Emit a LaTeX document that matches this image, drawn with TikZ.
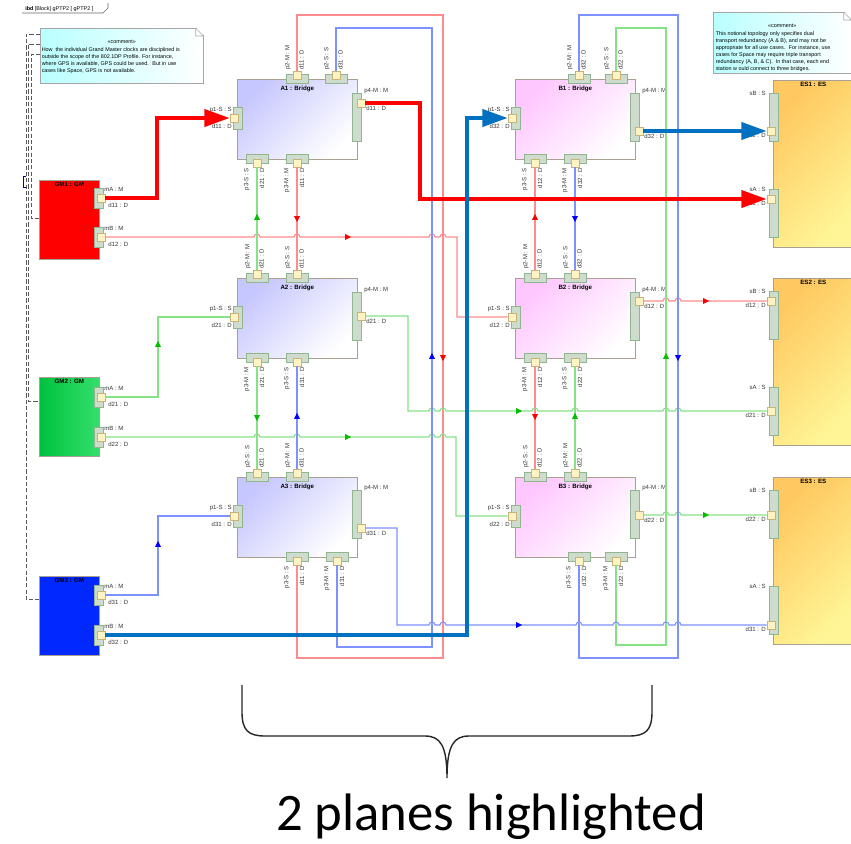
\documentclass[tikz,border=0pt]{standalone}
\usepackage{fontspec}
\setmainfont{Liberation Sans}
\newfontfamily\captfont{Carlito}
\usepackage{tikz}
\usetikzlibrary{arrows.meta,positioning,calc,shapes.geometric,shadows}

\definecolor{wirered}{RGB}{255,140,140}
\definecolor{wiregreen}{RGB}{135,225,135}
\definecolor{wireblue}{RGB}{125,145,255}
\definecolor{tipgreen}{RGB}{0,190,0}
\definecolor{planeblue}{RGB}{0,112,192}
\definecolor{boxedge}{RGB}{170,160,145}
\definecolor{stripfill}{RGB}{205,220,205}
\definecolor{stripedge}{RGB}{145,180,145}
\definecolor{sqfill}{RGB}{255,243,196}
\definecolor{sqedge}{RGB}{200,180,120}
\definecolor{lblgray}{RGB}{55,55,55}
\definecolor{esorange}{RGB}{255,200,96}
\definecolor{esyellow}{RGB}{255,245,150}
\definecolor{cmtcyan}{RGB}{185,255,255}
\definecolor{gmgreen}{RGB}{0,215,70}
\definecolor{gmblue}{RGB}{0,40,255}

\newcommand\plfont{\fontsize{4.3}{5}\selectfont}
\newcommand\ttlfont{\fontsize{4.4}{5}\selectfont\bfseries}
\newcommand\cmtfont{\fontsize{3.85}{4.96}\selectfont}

\tikzset{
  pstrip/.style={draw=stripedge, fill=stripfill, inner sep=0pt, line width=0.4pt},
  psq/.style={draw=sqedge, fill=sqfill, inner sep=0pt, minimum size=0.2cm, line width=0.4pt},
  plbl/.style={font=\plfont, text=lblgray, inner sep=0pt},
  boxshadow/.style={drop shadow={shadow xshift=0.7pt, shadow yshift=-0.7pt, opacity=0.3}},
  gmbox/.style={draw=boxedge, inner sep=0pt, minimum width=1.5cm, minimum height=1.975cm,
                anchor=north west, boxshadow},
  bridgeA/.style={draw=boxedge, left color=blue!22, right color=white, shading angle=45,
                  inner sep=0pt, minimum width=3cm, minimum height=2cm, anchor=north west, boxshadow},
  bridgeB/.style={draw=boxedge, left color=magenta!22, right color=white, shading angle=45,
                  inner sep=0pt, minimum width=3cm, minimum height=2cm, anchor=north west, boxshadow},
  esbox/.style={draw=boxedge, left color=esorange, right color=esyellow, shading angle=45,
                inner sep=0pt, minimum width=2cm, minimum height=4.175cm, anchor=north west, boxshadow},
  bttl/.style={font=\ttlfont, inner sep=0pt},
  cmtbox/.style={draw=gray!70, left color=cmtcyan, right color=white, inner sep=0pt,
                 anchor=north west, boxshadow},
  cmtedge/.style={draw=gray!70, fill=white},
  cmtttl/.style={font=\cmtfont, inner sep=0pt},
  cmttxt/.style={font=\cmtfont, align=left, inner sep=0pt},
  hdr/.style={font=\cmtfont, inner sep=0pt},
  tabline/.style={draw=gray!80!black, line width=0.4pt},
  cmtlink/.style={draw=gray!70!black, dash pattern=on 3pt off 1.5pt, line width=0.5pt},
  wr/.style={draw=wirered, line width=0.75pt},
  wg/.style={draw=wiregreen, line width=0.75pt},
  wb/.style={draw=wireblue, line width=0.75pt},
  redplane/.style={draw=red, line width=3pt},
  blueplane/.style={draw=planeblue, line width=3pt},
  bigtip/.style={-{Triangle[length=18pt,width=12pt]}},
  midtip/.style={isosceles triangle, isosceles triangle stretches, minimum width=4.2pt,
                 minimum height=4.2pt, inner sep=0pt, fill=#1, draw=none},
  bracel/.style={draw=black!85, line width=1pt},
  capt/.style={font=\captfont\fontsize{37.5}{40}\selectfont, inner sep=0pt}
}

% line jump over a crossing wire
\newcommand\hop[2]{-- ({#1-3},#2) .. controls ({#1-3},{#2-4}) and ({#1+3},{#2-4}) .. ({#1+3},#2)}

% ports: name, x, edge y, two labels
\newcommand\topport[5]{%
  \node[pstrip, minimum width=0.55cm, minimum height=0.225cm] (#1-s) at (#2,#3) {};
  \node[psq] (#1) at (#2,{#3-4}) {};
  \node[plbl, rotate=90, anchor=west] (#1-a) at ({#2-9},{#3-9}) {#4};
  \node[plbl, rotate=90, anchor=west] (#1-b) at ({#2+4.5},{#3-9}) {#5};}
\newcommand\botport[5]{%
  \node[pstrip, minimum width=0.55cm, minimum height=0.225cm] (#1-s) at (#2,#3) {};
  \node[psq] (#1) at (#2,{#3+4}) {};
  \node[plbl, rotate=90, anchor=east] (#1-a) at ({#2-10},{#3+9}) {#4};
  \node[plbl, rotate=90, anchor=east] (#1-b) at ({#2+5},{#3+9}) {#5};}
% name, edge x, y, two labels
\newcommand\leftport[5]{%
  \node[pstrip, minimum width=0.225cm, minimum height=0.55cm] (#1-s) at ({#2+1},#3) {};
  \node[psq] (#1) at ({#2-3},#3) {};
  \node[plbl, anchor=east] (#1-a) at ({#2-5},{#3-8}) {#4};
  \node[plbl, anchor=east] (#1-b) at ({#2-5},{#3+8}) {#5};}
% name, edge x, strip top, square y, two labels
\newcommand\rightport[6]{%
  \node[pstrip, minimum width=0.225cm, minimum height=1.2cm] (#1-s) at (#2,{#3+24}) {};
  \node[psq] (#1) at ({#2+4},#4) {};
  \node[plbl, anchor=west] (#1-a) at ({#2+7},{#3-2}) {#5};
  \node[plbl, anchor=west] (#1-b) at ({#2+9},{#4+5}) {#6};}
% name, y, two labels
\newcommand\gmport[4]{%
  \node[pstrip, minimum width=0.225cm, minimum height=0.5cm] (#1-s) at (98.5,#2) {};
  \node[psq] (#1) at (101,#2) {};
  \node[plbl, anchor=west] (#1-a) at (104,{#2-9}) {#3};
  \node[plbl, anchor=west] (#1-b) at (108,{#2+7}) {#4};}
% name, strip top, square y, two labels
\newcommand\esport[5]{%
  \node[pstrip, minimum width=0.225cm, minimum height=1.2cm] (#1-s) at (773.5,{#2+24}) {};
  \node[psq] (#1) at (771,#3) {};
  \node[plbl, anchor=east] (#1-a) at (766,#2) {#4};
  \node[plbl, anchor=east] (#1-b) at (766,{#3+4}) {#5};}

\begin{document}
\begin{tikzpicture}[x=0.025cm, y=-0.025cm]
  \fill[white] (0,0) rectangle (851,844);
  \useasboundingbox (0,0) rectangle (851,844);

  % frame header
  \node[hdr, anchor=west] (hdr) at (25,9) {\textbf{ibd} [Block] gPTP2 [ gPTP2 ]};
  \draw[tabline] (22,13) -- (103,13) -- (108,8) -- (108,3);

  % comments
  \node[cmtbox, minimum width=4.075cm, minimum height=1.375cm] (cmtGM) at (40,28) {};
  \fill[white] ($(cmtGM.north east)+(-8,-1)$) -- ++(9,0) -- ++(0,9) -- cycle;
  \draw[cmtedge] ($(cmtGM.north east)+(-8,0)$) -- ++(0,8) -- ++(8,0) -- cycle;
  \node[cmtttl] (cmtGM-t) at ($(cmtGM.north)+(0,14)$) {«comment»};
  \node[cmttxt, anchor=north west] (cmtGM-b) at ($(cmtGM.north west)+(1.5,19.5)$)
    {How~ the individual Grand Master clocks are disciplined is\\
     outside the scope of the 802.1DP Profile. For instance,\\
     where GPS is available, GPS could be used.~ But in use\\
     cases like Space, GPS is not available.};

  \node[cmtbox, minimum width=3.45cm, minimum height=1.525cm] (cmtES) at (713,12) {};
  \fill[white] ($(cmtES.north east)+(-8,-1)$) -- ++(9,0) -- ++(0,9) -- cycle;
  \draw[cmtedge] ($(cmtES.north east)+(-8,0)$) -- ++(0,8) -- ++(8,0) -- cycle;
  \node[cmtttl] (cmtES-t) at ($(cmtES.north)+(0,14)$) {«comment»};
  \node[cmttxt, anchor=north west] (cmtES-b) at ($(cmtES.north west)+(2.5,19.5)$)
    {This notional topology only specifies dual\\
     transport redundancy (A \& B), and may not be\\
     appropriate for all use cases.~ For instance, use\\
     cases for Space may require triple transport\\
     redundancy (A, B, \& C).~ In that case, each end\\
     station w ould connect to three bridges.};

  % grand masters
  \node[gmbox, fill=red] (GM1) at (39,180) {};
  \node[bttl, below=1.3pt of GM1.north] (GM1-t) {GM1 : GM};
  \node[gmbox, left color=gmgreen!90!black, right color=gmgreen!80!white] (GM2) at (39,377) {};
  \node[bttl, below=1.3pt of GM2.north] (GM2-t) {GM2 : GM};
  \node[gmbox, fill=gmblue] (GM3) at (39,576) {};
  \node[bttl, below=1.3pt of GM3.north] (GM3-t) {GM3 : GM};

  \draw[cmtlink] ($(cmtGM.north west)+(0,6)$) -| (26,599) -- ($(GM3.north west)+(0,23)$);
  \draw[cmtlink] ($(cmtGM.north west)+(0,16)$) -| (28.5,401) -- ($(GM2.north west)+(0,24)$);
  \draw[cmtlink] ($(cmtGM.north west)+(0,26)$) -| (31,218) -- ($(GM1.north west)+(0,38)$);
  \draw[draw=blue!70!black, line width=0.6pt] (26,176) -- (23,176) -- (23,187) -- (26,187);

  % bridges
  \node[bridgeA] (A1) at (237,79) {};
  \node[bttl, below=5pt of A1.north] (A1-t) {A1 : Bridge};
  \node[bridgeA] (A2) at (237,278) {};
  \node[bttl, below=5pt of A2.north] (A2-t) {A2 : Bridge};
  \node[bridgeA] (A3) at (237,477) {};
  \node[bttl, below=5pt of A3.north] (A3-t) {A3 : Bridge};
  \node[bridgeB] (B1) at (515,79) {};
  \node[bttl, below=5pt of B1.north] (B1-t) {B1 : Bridge};
  \node[bridgeB] (B2) at (515,278) {};
  \node[bttl, below=5pt of B2.north] (B2-t) {B2 : Bridge};
  \node[bridgeB] (B3) at (515,477) {};
  \node[bttl, below=5pt of B3.north] (B3-t) {B3 : Bridge};

  % end stations
  \node[esbox] (ES1) at (773,80) {};
  \node[bttl, below=1.3pt of ES1.north] (ES1-t) {ES1 : ES};
  \node[esbox] (ES2) at (773,278) {};
  \node[bttl, below=1.3pt of ES2.north] (ES2-t) {ES2 : ES};
  \node[esbox] (ES3) at (773,477) {};
  \node[bttl, below=1.3pt of ES3.north] (ES3-t) {ES3 : ES};

  % ports
  \gmport{GM1-mA}{198}{mA : M}{d11 : D}
  \gmport{GM1-mB}{237}{mB : M}{d12 : D}
  \gmport{GM2-mA}{397}{mA : M}{d21 : D}
  \gmport{GM2-mB}{437}{mB : M}{d22 : D}
  \gmport{GM3-mA}{595}{mA : M}{d31 : D}
  \gmport{GM3-mB}{635}{mB : M}{d32 : D}

  \topport{A1-p2M}{297}{79}{p2-M : M}{d11 : D}
  \topport{A1-p2S}{336}{79}{p2-S : S}{d31 : D}
  \leftport{A1-p1}{237}{118}{p1-S : S}{d11 : D}
  \rightport{A1-p4}{357}{93}{103}{p4-M : M}{d11 : D}
  \botport{A1-p3S}{257}{159}{p3-S : S}{d21 : D}
  \botport{A1-p3M}{297}{159}{p3-M : M}{d11 : D}

  \topport{A2-p2M}{257}{278}{p2-M : M}{d21 : D}
  \topport{A2-p2S}{297}{278}{p2-S : S}{d11 : D}
  \leftport{A2-p1}{237}{317}{p1-S : S}{d21 : D}
  \rightport{A2-p4}{357}{292}{316}{p4-M : M}{d21 : D}
  \botport{A2-p3M}{257}{358}{p3-M : M}{d21 : D}
  \botport{A2-p3S}{297}{358}{p3-S : S}{d31 : D}

  \topport{A3-p2S}{257}{477}{p2-S : S}{d21 : D}
  \topport{A3-p2M}{297}{477}{p2-M : M}{d31 : D}
  \leftport{A3-p1}{237}{516}{p1-S : S}{d31 : D}
  \rightport{A3-p4}{357}{490}{528}{p4-M : M}{d31 : D}
  \botport{A3-p3S}{297}{557}{p3-S : S}{d11 : D}
  \botport{A3-p3M}{337}{557}{p3-M : M}{d31 : D}

  \topport{B1-p2M}{579}{79}{p2-M : M}{d32 : D}
  \topport{B1-p2S}{616}{79}{p2-S : S}{d22 : D}
  \leftport{B1-p1}{515}{118}{p1-S : S}{d32 : D}
  \rightport{B1-p4}{635}{93}{131}{p4-M : M}{d32 : D}
  \botport{B1-p3S}{535}{159}{p3-S : S}{d12 : D}
  \botport{B1-p3M}{575}{159}{p3-M : M}{d32 : D}

  \topport{B2-p2M}{535}{278}{p2-M : M}{d12 : D}
  \topport{B2-p2S}{575}{278}{p2-S : S}{d32 : D}
  \leftport{B2-p1}{515}{317}{p1-S : S}{d12 : D}
  \rightport{B2-p4}{635}{292}{301}{p4-M : M}{d12 : D}
  \botport{B2-p3M}{535}{358}{p3-M : M}{d12 : D}
  \botport{B2-p3S}{575}{358}{p3-S : S}{d22 : D}

  \topport{B3-p2S}{535}{477}{p2-S : S}{d12 : D}
  \topport{B3-p2M}{575}{477}{p2-M : M}{d22 : D}
  \leftport{B3-p1}{515}{516}{p1-S : S}{d22 : D}
  \rightport{B3-p4}{635}{490}{515}{p4-M : M}{d22 : D}
  \botport{B3-p3S}{579}{557}{p3-S : S}{d32 : D}
  \botport{B3-p3M}{616}{557}{p3-M : M}{d22 : D}

  \esport{ES1-sB}{93}{131}{sB : S}{d32 : D}
  \esport{ES1-sA}{189}{199}{sA : S}{d11 : D}
  \esport{ES2-sB}{291}{301}{sB : S}{d12 : D}
  \esport{ES2-sA}{387}{411}{sA : S}{d21 : D}
  \esport{ES3-sB}{490}{515}{sB : S}{d22 : D}
  \esport{ES3-sA}{586}{625}{sA : S}{d31 : D}

  % GM1 (red) paths
  \draw[wr] (GM1-mB.east) \hop{257}{237} \hop{297}{237} \hop{432}{237} \hop{443}{237}
    -| (457,317) -- (B2-p1.west);
  \draw[wr] (A1-p2M.north) |- (443,15) -- (443,658) -| (A3-p3S.south);
  \draw[wr] (A1-p3M.south) -- (A2-p2S.north);
  \draw[wr] (B2-p2M.north) -- (B1-p3S.south);
  \draw[wr] (B2-p3M.south) -- (B3-p2S.north);
  \draw[wr] (B2-p4.east) \hop{666}{301} \hop{678}{301} -- (ES2-sB.west);

  % GM2 (green) paths
  \draw[wg] (GM2-mA.east) -| (158,317) -- (A2-p1.west);
  \draw[wg] (GM2-mB.east) \hop{257}{437} \hop{297}{437} \hop{432}{437} \hop{443}{437}
    -| (456,516) -- (B3-p1.west);
  \draw[wg] (A2-p4.east) -| (408,411) \hop{432}{411} \hop{443}{411} \hop{535}{411}
    \hop{575}{411} \hop{666}{411} \hop{678}{411} -- (ES2-sA.west);
  \draw[wg] (A2-p2M.north) -- (A1-p3S.south);
  \draw[wg] (A2-p3M.south) -- (A3-p2S.north);
  \draw[wg] (B3-p3M.south) |- (666,645) -- (666,28) -| (B1-p2S.north);
  \draw[wg] (B3-p2M.north) -- (B2-p3S.south);
  \draw[wg] (B3-p4.east) \hop{666}{515} \hop{678}{515} -- (ES3-sB.west);

  % GM3 (blue) paths
  \draw[wb] (GM3-mA.east) -| (158,516) -- (A3-p1.west);
  \draw[wb] (A3-p3M.south) |- (432,647) -- (432,28) -| (A1-p2S.north);
  \draw[wb] (A3-p2M.north) -- (A2-p3S.south);
  \draw[wb] (A3-p4.east) -| (397,625) \hop{432}{625} \hop{443}{625} \hop{579}{625}
    \hop{616}{625} \hop{666}{625} \hop{678}{625} -- (ES3-sA.west);
  \draw[wb] (B1-p2M.north) |- (678,15) -- (678,658) -| (B3-p3S.south);
  \draw[wb] (B1-p3M.south) -- (B2-p2S.north);

  % highlighted planes
  \draw[redplane, bigtip] (GM1-mA.east) -| (157,118) -- (A1-p1.west);
  \draw[redplane, bigtip] (A1-p4.east) -| (420,199) -- (ES1-sA.west);
  \draw[blueplane, bigtip] (GM3-mB.east) -| (467,118) -- (B1-p1.west);
  \draw[blueplane, bigtip] (B1-p4.east) -- (ES1-sB.west);

  % direction marks
  \node[midtip=red] (tR1) at (347,237) {};
  \node[midtip=red, rotate=-90] (tR2) at (443,357) {};
  \node[midtip=red, rotate=-90] (tR3) at (297,218) {};
  \node[midtip=red, rotate=90] (tR4) at (535,218) {};
  \node[midtip=red, rotate=-90] (tR5) at (535,416) {};
  \node[midtip=red] (tR6) at (705,301) {};
  \node[midtip=tipgreen, rotate=90] (tG1) at (158,345) {};
  \node[midtip=tipgreen] (tG2) at (347,437) {};
  \node[midtip=tipgreen] (tG3) at (518,411) {};
  \node[midtip=tipgreen, rotate=90] (tG4) at (257,218) {};
  \node[midtip=tipgreen, rotate=-90] (tG5) at (257,417) {};
  \node[midtip=tipgreen, rotate=90] (tG6) at (666,357) {};
  \node[midtip=tipgreen, rotate=90] (tG7) at (575,417) {};
  \node[midtip=tipgreen] (tG8) at (705,515) {};
  \node[midtip=blue, rotate=90] (tU1) at (158,545) {};
  \node[midtip=blue, rotate=90] (tU2) at (432,357) {};
  \node[midtip=blue, rotate=90] (tU3) at (297,417) {};
  \node[midtip=blue] (tU4) at (518,625) {};
  \node[midtip=blue, rotate=-90] (tU5) at (678,357) {};
  \node[midtip=blue, rotate=-90] (tU6) at (575,218) {};

  % brace and caption
  \draw[bracel] (242,685) -- (242,712) .. controls (242,730) and (248,736) .. (265,736)
    -- (425,736) .. controls (440,736) and (447,745) .. (447,778)
    .. controls (447,745) and (454,736) .. (469,736) -- (629,736)
    .. controls (646,736) and (652,730) .. (652,712) -- (652,685);
  \node[capt, anchor=base] (capt) at (491,830) {2 planes highlighted};
\end{tikzpicture}
\end{document}
